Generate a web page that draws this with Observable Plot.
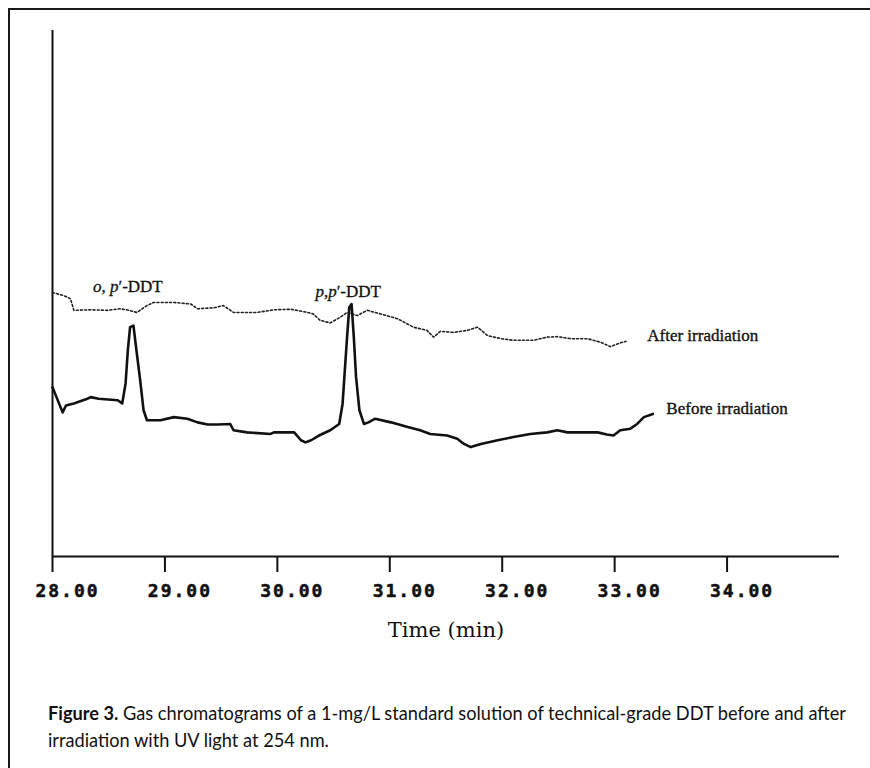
<!DOCTYPE html>
<html><head><meta charset="utf-8">
<script src="https://cdn.jsdelivr.net/npm/d3@7"></script>
<script src="https://cdn.jsdelivr.net/npm/@observablehq/plot@0.6"></script>
<style>
html,body{margin:0;padding:0;background:#fff;}
#page{position:relative;width:870px;height:768px;overflow:hidden;background:#fff;}
#frame{position:absolute;left:8px;top:8px;width:900px;height:800px;border-top:2px solid #1a1a1a;border-left:2px solid #1a1a1a;}
#chart{position:absolute;left:0;top:0;}
#caption{position:absolute;left:48px;top:699px;font-family:Lato,"Open Sans",sans-serif;font-size:19px;line-height:27px;color:#111;white-space:nowrap;transform-origin:0 0;}
#caption b{font-weight:700;}
</style></head><body>
<div id="page">
  <div id="frame"></div>
  <div id="chart"></div>
  <div id="caption"><div><span id="cap1"><b>Figure 3.</b> Gas chromatograms of a 1-mg/L standard solution of technical-grade DDT before and after</span></div><div>irradiation with UV light at 254 nm.</div></div>
</div>
<script>
// Retention time (min) and detector signal (arbitrary units)
const beforeTime = [28.00,28.09,28.12,28.19,28.31,28.34,28.41,28.58,28.62,28.65,28.67,28.69,28.72,28.75,28.78,28.81,28.84,28.96,29.08,29.20,29.29,29.38,29.47,29.58,29.61,29.73,29.94,29.97,30.15,30.21,30.25,30.30,30.37,30.47,30.55,30.58,30.60,30.62,30.64,30.66,30.68,30.70,30.73,30.77,30.81,30.87,31.01,31.16,31.27,31.36,31.51,31.60,31.66,31.72,31.81,31.96,32.10,32.25,32.40,32.49,32.58,32.70,32.85,32.93,32.99,33.05,33.14,33.20,33.26,33.34];
const beforeSignal = [32.2,27.4,28.7,29.1,30.0,30.3,30.0,29.7,29.1,32.9,39.2,43.6,43.9,38.6,33.5,27.8,25.9,25.9,26.5,26.2,25.5,25.1,25.1,25.2,24.0,23.6,23.3,23.6,23.6,22.1,21.7,22.1,23.0,24.0,25.2,29.0,35.4,41.7,47.4,48.0,41.7,34.1,27.8,25.2,25.5,26.2,25.5,24.6,24.0,23.3,23.0,22.4,21.4,20.8,21.4,22.1,22.7,23.3,23.6,24.0,23.6,23.6,23.6,23.2,23.0,24.0,24.3,25.2,26.5,27.1];
const afterTime = [28.00,28.10,28.16,28.19,28.34,28.49,28.60,28.66,28.75,28.84,28.90,29.08,29.23,29.29,29.44,29.52,29.61,29.82,29.97,30.12,30.27,30.32,30.38,30.47,30.56,30.62,30.71,30.80,30.92,31.07,31.21,31.33,31.39,31.45,31.57,31.69,31.78,31.87,31.99,32.10,32.28,32.40,32.49,32.61,32.76,32.88,32.96,33.05,33.10];
const afterSignal = [50.2,49.6,49.0,46.8,46.9,46.8,47.1,46.9,46.4,47.7,48.3,48.3,48.0,47.1,47.3,47.7,46.4,46.4,46.9,47.0,46.4,46.1,44.9,44.4,45.5,46.4,45.8,46.8,46.1,45.2,43.6,43.0,41.7,42.8,42.6,43.0,43.6,42.0,41.4,41.1,41.1,41.7,41.8,41.4,41.4,40.7,39.9,40.6,40.9];
const xTicks = [28, 29, 30, 31, 32, 33, 34];
const peakNames = ["o, p′-DDT", "p,p′-DDT"];
const peakTime = [28.67, 30.63];
const peakSignal = [51.4, 50.4];
const seriesNames = ["After irradiation", "Before irradiation"];
const seriesLabelTime = [33.29, 33.46];
const seriesLabelSignal = [42.0, 28.2];
const xLabel = "Time (min)";

const before = beforeTime.map((t, i) => ({t, v: beforeSignal[i]}));
const after = afterTime.map((t, i) => ({t, v: afterSignal[i]}));
const peaks = peakNames.map((name, i) => ({name, t: peakTime[i], v: peakSignal[i]}));
const seriesLabels = seriesNames.map((name, i) => ({name, t: seriesLabelTime[i], v: seriesLabelSignal[i]}));

const serif = "'Liberation Serif', 'Times New Roman', serif";
const chart = Plot.plot({
  width: 870, height: 660,
  marginTop: 30, marginBottom: 104, marginLeft: 52, marginRight: 31,
  x: {domain: [28, 35]},
  y: {domain: [0, 100], axis: null},
  style: {background: "transparent", color: "#111"},
  marks: [
    Plot.ruleX([28], {stroke: "#111", strokeWidth: 2}),
    Plot.ruleY([0], {stroke: "#111", strokeWidth: 2.2}),
    Plot.axisX({ticks: xTicks, tickSize: 16, tickFormat: () => "", strokeWidth: 2, stroke: "#111", label: null}),
    Plot.text(xTicks, {x: d => d, frameAnchor: "bottom", dy: 40, dx: 15, text: d => d.toFixed(2),
      fontFamily: "'DejaVu Sans Mono', monospace", fontWeight: "bold", fontSize: 18, fill: "#111", stroke: "#111", strokeWidth: 0.5}),
    Plot.line(after, {x: "t", y: "v", stroke: "#222", strokeWidth: 1.6, strokeDasharray: "2,2.2"}),
    Plot.line(before, {x: "t", y: "v", stroke: "#111", strokeWidth: 2.6, strokeLinejoin: "round"}),
    Plot.text(peaks, {x: "t", y: "v", text: "name", fontFamily: serif, fontSize: 17, fill: "#111", stroke: "#111", strokeWidth: 0.3}),
    Plot.text(seriesLabels, {x: "t", y: "v", text: "name", textAnchor: "start", fontFamily: serif, fontSize: 17, fill: "#111", stroke: "#111", strokeWidth: 0.35}),
    Plot.text([xLabel], {frameAnchor: "bottom", dy: 80, text: d => d, fontFamily: "'DejaVu Serif', serif", fontSize: 21, fill: "#111"})
  ]
});
document.getElementById("chart").appendChild(chart);

// letter spacing for tick labels; italic o / p in peak labels
d3.select(chart).selectAll("text").each(function() {
  const s = this.textContent;
  if (/^\d\d\.00$/.test(s)) this.setAttribute("letter-spacing", "2");
  if (s === peakNames[0] || s === peakNames[1]) {
    const sel = d3.select(this);
    sel.text(null);
    const parts = s === peakNames[0]
      ? [["o", true], [", ", false], ["p", true], ["′-DDT", false]]
      : [["p", true], [",", false], ["p", true], ["′-DDT", false]];
    for (const [txt, it] of parts) sel.append("tspan").attr("font-style", it ? "italic" : null).text(txt);
  }
});

// condense the caption to the reference line width
const cap = document.getElementById("caption");
const w = document.getElementById("cap1").getBoundingClientRect().width;
cap.style.transform = `scaleX(${798 / w})`;
</script>
</body></html>
